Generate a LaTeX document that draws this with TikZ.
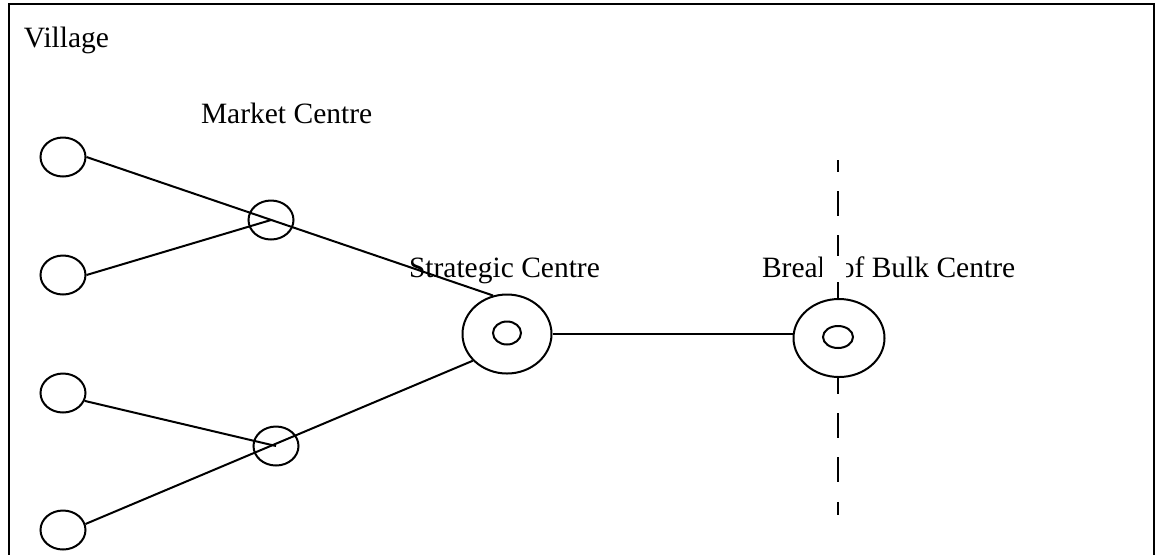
\documentclass[tikz,border=0pt]{standalone}
\usepackage{fontspec}
\setmainfont{Liberation Serif}
\usetikzlibrary{shapes.geometric}
\tikzset{
    place/.style={
           ellipse,
           draw=black, line width=1pt,
           inner sep=0pt,
           minimum width=22.5pt,
           minimum height=19.5pt,
           },
    centre/.style={
           ellipse,
           draw=black, line width=1pt,
           fill=white,
           inner sep=0pt,
           minimum width=44.5pt,
           minimum height=39.5pt,
           },
    core/.style={
           ellipse,
           draw=black, line width=1pt,
           inner sep=0pt,
           minimum width=14pt,
           minimum height=11.5pt,
           },
    frameless/.style={
           anchor=base west,
           inner sep=0pt,
           font=\fontsize{14.75}{17}\selectfont,
           },
}

\begin{document}
\begin{tikzpicture}[x=0.5pt, y=-0.5pt, line width=1pt]
	\useasboundingbox (0,0) rectangle (1156,554);
	\clip (0,0) rectangle (1156,554);
	\draw[line width=0.8pt] (9,4) rectangle (1154,600);
	
	% route cut
	\coordinate (cut top) at (838,160);
	\coordinate (cut bottom) at (838,515);
	\draw[dash pattern=on 12.5pt off 9.7pt, dash phase=6.7pt] (cut top) -- (cut bottom);
	
	\node[place] (v1) at (63,157) {};
	\node[place] (v2) at (63,275) {};
	\node[place] (v3) at (63,393) {};
	\node[place] (v4) at (63,530) {};
	
	\node[place] (m1) at (271,220) {};
	\node[place] (m2) at (276,446) {};
	
	\node[centre] (sc) at (507,334) {};
	\node[core] (sci) at (507,333) {};
	
	\node[centre, minimum width=45.5pt, minimum height=39pt] (bb) at (839,338) {};
	\node[core, minimum width=15pt, minimum height=11pt] (bbi) at (838,337) {};
	
	\draw (v1.east) -- (sc.110);
	\draw (v2.east) -- (m1.center);
	\draw (v3.-20) -- (m2.center);
	\draw (v4.15) -- (sc.218);
	\draw (sc.east) -- (sc.east -| bb.west);
	
	\node[frameless] (village) at (23,47) {Village};
	\node[frameless] (market) at (200,123) {Market Centre};
	\node[frameless] (strategic) at (408,277) {Strategic Centre};
	\node[frameless] (bulk) at (761,277) {Break of Bulk Centre};
	
	\node[fill=white, inner sep=0pt, minimum width=12pt, minimum height=13pt] (gap) at (834,269) {};
\end{tikzpicture}
\end{document}
